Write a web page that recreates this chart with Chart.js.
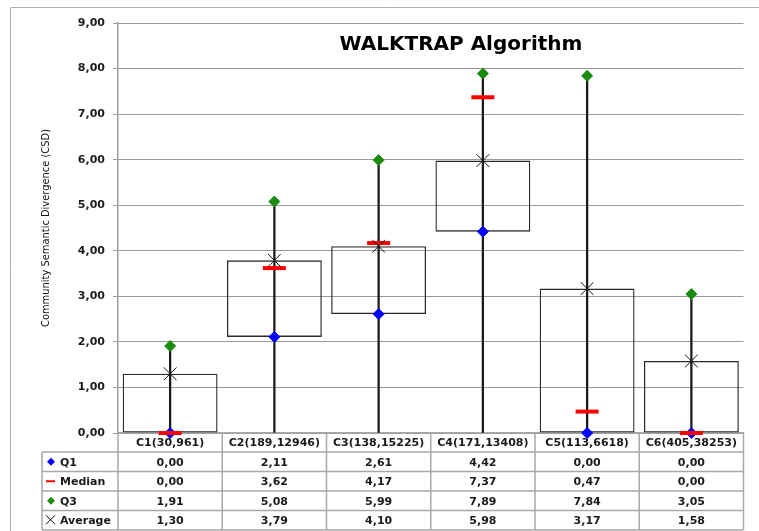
<!DOCTYPE html>
<html>
<head>
<meta charset="utf-8">
<script src="https://cdn.jsdelivr.net/npm/chart.js@4.4.1/dist/chart.umd.min.js"></script>
<style>
  html, body { margin: 0; padding: 0; background: #fff; }
  #wrap { width: 759px; height: 531px; position: relative; }
</style>
</head>
<body>
<div id="wrap"><canvas id="csdChart"></canvas></div>
<script>
// data
const categories = ["C1(30,961)", "C2(189,12946)", "C3(138,15225)", "C4(171,13408)", "C5(113,6618)", "C6(405,38253)"];
const q1 = [0.00, 2.11, 2.61, 4.42, 0.00, 0.00];
const median = [0.00, 3.62, 4.17, 7.37, 0.47, 0.00];
const q3 = [1.91, 5.08, 5.99, 7.89, 7.84, 3.05];
const average = [1.30, 3.79, 4.10, 5.98, 3.17, 1.58];
const whiskerLow = [0, 0, 0, 0, 0, 0];
const yMin = 0, yMax = 9, yStep = 1;

const fmt = v => v.toFixed(2).replace(".", ",");
const tickFont = "bold 11px 'DejaVu Sans'";
const lineGray = "#a8a8a8";

// rows of the data table under the plot
const tableRows = [
    { label: "Q1", values: q1, marker: "diamond", color: "#0000ff" },
    { label: "Median", values: median, marker: "dash", color: "#ff0000" },
    { label: "Q3", values: q3, marker: "diamond", color: "#1a8a10" },
    { label: "Average", values: average, marker: "cross", color: "#000" }
];

const framePlugin = {
    id: "frame",
    beforeDraw(chart) {
        const ctx = chart.ctx;
        ctx.save();
        ctx.fillStyle = "#fff";
        ctx.fillRect(0, 0, chart.width, chart.height);
        ctx.strokeStyle = "#b0b0b0";
        ctx.lineWidth = 1;
        ctx.beginPath();
        ctx.moveTo(10.5, chart.height);
        ctx.lineTo(10.5, 7.5);
        ctx.lineTo(chart.width, 7.5);
        ctx.stroke();
        ctx.restore();
    }
};

const titlePlugin = {
    id: "innerTitle",
    afterDatasetsDraw(chart) {
        const { ctx, chartArea } = chart;
        ctx.save();
        ctx.font = "bold 20px 'DejaVu Sans'";
        ctx.fillStyle = "#000";
        ctx.textAlign = "center";
        ctx.textBaseline = "middle";
        ctx.fillText("WALKTRAP Algorithm", chartArea.left + 343, chartArea.top + 22);
        ctx.restore();
    }
};

const tablePlugin = {
    id: "dataTable",
    afterDraw(chart) {
        const { ctx, chartArea, scales: { x } } = chart;
        const colW = (chartArea.right - chartArea.left) / categories.length;
        const top = chartArea.bottom;
        const headH = 19;
        const rowH = 19.5;
        const legendLeft = 42;
        const bottom = top + headH + rowH * tableRows.length;

        ctx.save();
        ctx.strokeStyle = lineGray;
        ctx.lineWidth = 1.5;
        ctx.beginPath();
        // horizontal lines
        for (let r = 0; r <= tableRows.length; r++) {
            const y = top + headH + r * rowH;
            ctx.moveTo(legendLeft, y);
            ctx.lineTo(chartArea.right, y);
        }
        // vertical lines
        ctx.moveTo(legendLeft, top + headH);
        ctx.lineTo(legendLeft, bottom);
        for (let c = 0; c <= categories.length; c++) {
            const xx = chartArea.left + c * colW;
            ctx.moveTo(xx, top);
            ctx.lineTo(xx, bottom);
        }
        ctx.stroke();

        ctx.font = tickFont;
        ctx.fillStyle = "#1a1a1a";
        ctx.textAlign = "center";
        ctx.textBaseline = "middle";
        categories.forEach((cat, i) => {
            ctx.fillText(cat, x.getPixelForValue(i), top + headH / 2 + 1);
        });

        tableRows.forEach((row, r) => {
            const yc = top + headH + r * rowH + rowH / 2 + 1;
            ctx.textAlign = "center";
            ctx.fillStyle = "#1a1a1a";
            row.values.forEach((v, i) => {
                ctx.fillText(fmt(v), x.getPixelForValue(i), yc);
            });
            // legend glyph
            const mx = 51, my = yc - 1;
            ctx.fillStyle = row.color;
            ctx.strokeStyle = row.color;
            if (row.marker === "diamond") {
                ctx.beginPath();
                ctx.moveTo(mx, my - 4);
                ctx.lineTo(mx + 4, my);
                ctx.lineTo(mx, my + 4);
                ctx.lineTo(mx - 4, my);
                ctx.closePath();
                ctx.fill();
            } else if (row.marker === "dash") {
                ctx.lineWidth = 2;
                ctx.beginPath();
                ctx.moveTo(mx - 5, my);
                ctx.lineTo(mx + 4, my);
                ctx.stroke();
            } else {
                ctx.lineWidth = 1;
                ctx.beginPath();
                ctx.moveTo(mx - 5, my - 5);
                ctx.lineTo(mx + 4, my + 4);
                ctx.moveTo(mx + 4, my - 5);
                ctx.lineTo(mx - 5, my + 4);
                ctx.stroke();
            }
            ctx.fillStyle = "#1a1a1a";
            ctx.textAlign = "left";
            ctx.fillText(row.label, 60, yc);
        });
        ctx.restore();
    }
};

const pointSet = (label, data, style, color, radius, width, order) => ({
    type: "line",
    label,
    data,
    showLine: false,
    pointStyle: style,
    pointRadius: radius,
    pointHoverRadius: radius,
    pointBackgroundColor: color,
    pointBorderColor: color,
    pointBorderWidth: width,
    clip: false,
    order
});

new Chart(document.getElementById("csdChart"), {
    type: "bar",
    data: {
        labels: categories,
        datasets: [
            {
                label: "Range",
                data: q3.map((v, i) => [whiskerLow[i], v]),
                backgroundColor: "#1a1a1a",
                borderWidth: 0,
                barThickness: 1.6,
                grouped: false,
                order: 6
            },
            {
                label: "Box",
                data: q1.map((v, i) => [v, average[i]]),
                backgroundColor: "rgba(255,255,255,0)",
                borderColor: "#2a2a2a",
                borderWidth: 1.3,
                borderSkipped: false,
                categoryPercentage: 1,
                barPercentage: 0.91,
                grouped: false,
                order: 5
            },
            pointSet("Q1", q1, "rectRot", "#0000ff", 5.5, 1, 4),
            pointSet("Median", median, "line", "#ff0000", 11.5, 4, 3),
            pointSet("Q3", q3, "rectRot", "#1a8a10", 5.5, 1, 2),
            pointSet("Average", average, "crossRot", "#111", 9, 1, 1)
        ]
    },
    options: {
        responsive: true,
        maintainAspectRatio: false,
        animation: false,
        layout: { padding: { left: 36, right: 14, top: 23, bottom: 98 } },
        plugins: { legend: { display: false }, tooltip: { enabled: false } },
        scales: {
            x: {
                grid: { display: false },
                ticks: { display: false },
                border: { display: true, color: lineGray, width: 1.5 },
                afterFit: s => { s.height = 0; }
            },
            y: {
                min: yMin,
                max: yMax,
                ticks: {
                    stepSize: yStep,
                    padding: 8,
                    color: "#1a1a1a",
                    font: { family: "'DejaVu Sans'", size: 11, weight: "bold" },
                    callback: v => fmt(v)
                },
                grid: { color: "#9a9a9a", lineWidth: 1, tickLength: 5, tickColor: "#9a9a9a" },
                border: { color: "#9a9a9a", width: 1.5 },
                title: {
                    display: true,
                    text: "Community Semantic Divergence (CSD)",
                    color: "#111",
                    font: { family: "'DejaVu Sans Condensed'", size: 11 },
                    padding: { top: 4, bottom: 4 }
                },
                afterFit: s => { s.width = 82; }
            }
        }
    },
    plugins: [framePlugin, titlePlugin, tablePlugin]
});
</script>
</body>
</html>
